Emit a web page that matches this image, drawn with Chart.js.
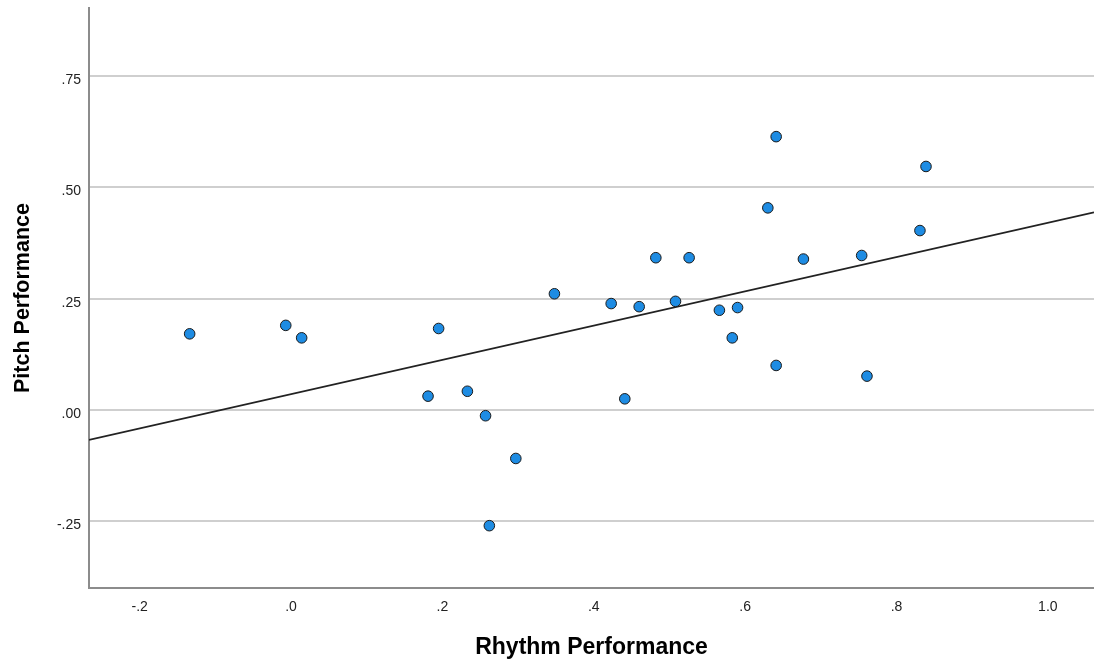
<!DOCTYPE html>
<html>
<head>
<meta charset="utf-8">
<script src="https://cdn.jsdelivr.net/npm/chart.js@4/dist/chart.umd.min.js"></script>
<style>
  body { margin: 0; background: #fff; }
  #wrap { width: 1094px; height: 663px; }
</style>
</head>
<body>
<div id="wrap"><canvas id="scatterChart"></canvas></div>
<script>
// Rhythm vs pitch performance
const rhythm = [-0.134, -0.007, 0.014, 0.181, 0.195, 0.233, 0.257, 0.262, 0.297, 0.348,
                0.423, 0.441, 0.460, 0.482, 0.508, 0.526, 0.566, 0.583, 0.590, 0.630,
                0.641, 0.641, 0.677, 0.754, 0.761, 0.831, 0.839];
const pitch = [0.171, 0.190, 0.162, 0.031, 0.183, 0.042, -0.013, -0.260, -0.109, 0.261,
               0.239, 0.025, 0.232, 0.342, 0.244, 0.342, 0.224, 0.162, 0.230, 0.454,
               0.614, 0.100, 0.339, 0.347, 0.076, 0.403, 0.547];
const xTicks = [-0.2, 0, 0.2, 0.4, 0.6, 0.8, 1.0];
const yTicks = [-0.25, 0, 0.25, 0.5, 0.75];
const xRange = [-0.267, 1.061];
const yRange = [-0.40, 0.903];

// least squares fit line
const n = rhythm.length;
const mx = rhythm.reduce((a, b) => a + b, 0) / n;
const my = pitch.reduce((a, b) => a + b, 0) / n;
let sxy = 0, sxx = 0;
for (let i = 0; i < n; i++) {
    sxy += (rhythm[i] - mx) * (pitch[i] - my);
    sxx += (rhythm[i] - mx) * (rhythm[i] - mx);
}
const slope = sxy / sxx;
const intercept = my - slope * mx;
const fitPoints = xRange.map(x => ({ x: x, y: intercept + slope * x }));

const fmt = (v, d) => v.toFixed(d).replace(/^(-?)0\./, '$1.');

// chart.js reserves room for end labels, the reference doesn't
const noEdgePad = s => {
    s.paddingTop = 0; s.paddingBottom = 0;
    s.paddingLeft = 0; s.paddingRight = 0;
};

const ctx = document.getElementById('scatterChart').getContext('2d');
const chart = new Chart(ctx, {
    type: 'scatter',
    data: {
        datasets: [{
            label: 'Pitch Performance',
            data: rhythm.map((x, i) => ({ x: x, y: pitch[i] })),
            backgroundColor: '#1e8ce3',
            borderColor: '#1a1a1a',
            borderWidth: 1,
            pointRadius: 5.3,
            order: 1
        }, {
            type: 'line',
            label: 'Fit',
            data: fitPoints,
            borderColor: '#222',
            borderWidth: 1.8,
            pointRadius: 0,
            fill: false,
            order: 2
        }]
    },
    options: {
        responsive: true,
        maintainAspectRatio: false,
        animation: false,
        layout: { autoPadding: false, padding: { top: 8, right: 0, bottom: 0, left: 0 } },
        plugins: {
            legend: { display: false },
            tooltip: { enabled: false }
        },
        scales: {
            x: {
                type: 'linear',
                min: xRange[0],
                max: xRange[1],
                afterBuildTicks: s => { s.ticks = xTicks.map(v => ({ value: v })); },
                afterFit: s => { s.height = 75; noEdgePad(s); },
                grid: { display: false, drawTicks: false },
                border: { color: '#8c8c8c', width: 2 },
                ticks: {
                    padding: 11,
                    color: '#222',
                    font: { family: 'Liberation Sans', size: 14 },
                    callback: v => fmt(v, 1)
                },
                title: {
                    display: true,
                    text: 'Rhythm Performance',
                    color: '#000',
                    font: { family: 'Liberation Sans', size: 23, weight: 'bold', lineHeight: 1 },
                    padding: { top: 0, bottom: 3.5 }
                }
            },
            y: {
                type: 'linear',
                min: yRange[0],
                max: yRange[1],
                afterBuildTicks: s => { s.ticks = yTicks.map(v => ({ value: v })); },
                afterFit: s => { s.width = 89; noEdgePad(s); },
                grid: { color: '#cfcfcf', lineWidth: 2, drawTicks: false },
                border: { color: '#8c8c8c', width: 2 },
                ticks: {
                    padding: 8,
                    labelOffset: 4,
                    color: '#222',
                    font: { family: 'Liberation Sans', size: 14 },
                    callback: v => fmt(v, 2)
                },
                title: {
                    display: true,
                    text: 'Pitch Performance',
                    color: '#000',
                    font: { family: 'Liberation Sans', size: 21.5, weight: 'bold', lineHeight: 1 },
                    padding: { top: 12, bottom: 0 }
                }
            }
        }
    }
});
</script>
</body>
</html>
